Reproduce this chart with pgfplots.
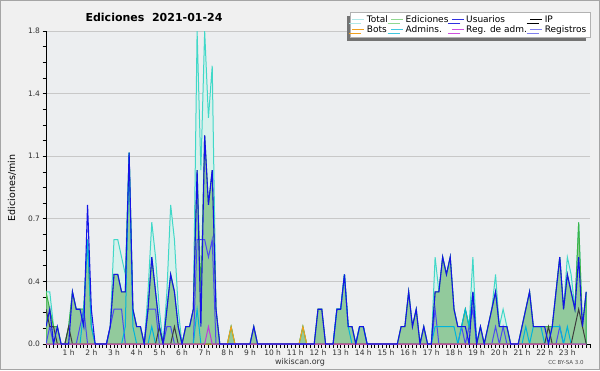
\documentclass[border=0pt]{standalone}
\usepackage{fontspec}
\setmainfont{DejaVu Sans}
\usepackage{pgfplots}
\pgfplotsset{compat=1.18}
\usepackage{pgfplotstable}
\usetikzlibrary{shadows}

\definecolor{outerbg}{RGB}{240,240,240}
\definecolor{plotbg}{RGB}{236,238,240}
\definecolor{bordercol}{RGB}{165,165,165}
\definecolor{gridcol}{RGB}{200,200,200}
\definecolor{turq}{RGB}{64,216,200}
\definecolor{totfill}{RGB}{216,241,236}
\definecolor{edfill}{RGB}{146,202,156}
\definecolor{edline}{RGB}{60,180,70}
\definecolor{usu}{RGB}{20,20,230}
\definecolor{reg}{RGB}{75,75,240}
\definecolor{adm}{RGB}{0,180,220}
\definecolor{ipc}{RGB}{60,60,60}
\definecolor{bots}{RGB}{240,160,30}
\definecolor{radm}{RGB}{190,60,220}
\definecolor{lgtot}{RGB}{176,232,232}
\definecolor{lged}{RGB}{144,216,144}
\definecolor{lgusu}{RGB}{48,48,224}
\definecolor{lgreg}{RGB}{128,128,240}
\definecolor{lgadm}{RGB}{64,200,224}
\definecolor{lgradm}{RGB}{208,80,224}

\pgfplotstableread{
i T E U IP R A B M
0 .3 .3 .1 .2 0 0 0 0
1 .3 .2 .2 .1 .1 0 0 0
2 .1 .1 0 .1 0 0 0 0
3 .1 .1 .1 0 0 0 0 0
4 0 0 0 0 0 0 0 0
5 0 0 0 0 0 0 0 0
6 .1 .1 0 .1 0 0 0 0
7 .3 .3 .3 0 0 0 0 0
8 .2 .2 .2 0 0 0 0 0
9 .2 .2 .2 0 .1 0 0 0
10 .2 .2 .1 0 .2 .2 0 0
11 .6 .6 .8 0 0 .6 0 0
12 .1 .1 .2 0 0 .1 0 0
13 0 0 0 0 0 0 0 0
14 0 0 0 0 0 0 0 0
15 0 0 0 0 0 0 0 0
16 0 0 0 0 0 0 0 0
17 .1 .1 .1 0 .1 0 0 0
18 .6 .4 .4 0 .2 0 0 0
19 .6 .4 .4 0 .2 0 0 0
20 .5 .3 .3 0 .2 0 0 0
21 .4 .3 .3 0 0 .1 0 0
22 1.1 1.1 1.1 0 0 1.1 0 0
23 .2 .2 .2 0 0 .1 0 0
24 .1 .1 .1 0 0 0 0 0
25 .1 .1 .1 0 0 0 0 0
26 0 0 0 0 0 0 0 0
27 .3 .2 .2 0 .2 0 0 0
28 .7 .5 .5 0 .2 .1 0 0
29 .5 .3 .3 0 .2 0 0 0
30 .2 .1 .1 .1 0 0 0 0
31 0 0 0 0 0 0 0 0
32 .3 .2 .2 0 .1 0 0 0
33 .8 .4 .4 0 .1 0 0 0
34 .6 .3 .3 .1 0 0 0 0
35 .2 .1 .1 0 0 0 0 0
36 0 0 0 0 0 0 0 0
37 .1 .1 .1 0 0 0 0 0
38 .1 .1 .1 0 0 0 0 0
39 .2 .2 .2 0 0 0 0 0
40 1.8 1.0 1.0 0 .6 .2 0 0
41 1.0 .3 .1 0 .6 0 0 0
42 1.8 1.2 1.2 0 .6 0 0 0
43 1.3 .8 .8 0 .5 0 0 .1
44 1.6 1.0 1.0 0 .6 0 0 0
45 .2 .2 .2 0 0 0 0 0
46 0 0 0 0 0 0 0 0
47 0 0 0 0 0 0 0 0
48 0 0 0 0 0 0 0 0
49 .1 .1 0 0 0 0 .1 0
50 0 0 0 0 0 0 0 0
51 0 0 0 0 0 0 0 0
52 0 0 0 0 0 0 0 0
53 0 0 0 0 0 0 0 0
54 0 0 0 0 0 0 0 0
55 .1 .1 .1 0 0 0 0 0
56 0 0 0 0 0 0 0 0
57 0 0 0 0 0 0 0 0
58 0 0 0 0 0 0 0 0
59 0 0 0 0 0 0 0 0
60 0 0 0 0 0 0 0 0
61 0 0 0 0 0 0 0 0
62 0 0 0 0 0 0 0 0
63 0 0 0 0 0 0 0 0
64 0 0 0 0 0 0 0 0
65 0 0 0 0 0 0 0 0
66 0 0 0 0 0 0 0 0
67 0 0 0 0 0 0 0 0
68 .1 .1 0 0 0 0 .1 0
69 0 0 0 0 0 0 0 0
70 0 0 0 0 0 0 0 0
71 0 0 0 0 0 0 0 0
72 .2 .2 .2 0 0 0 0 0
73 .2 .2 .2 0 0 0 0 0
74 0 0 0 0 0 0 0 0
75 0 0 0 0 0 0 0 0
76 0 0 0 0 0 0 0 0
77 .2 .2 .2 0 0 .2 0 0
78 .2 .2 .2 0 0 .2 0 0
79 .4 .4 .4 0 0 .4 0 0
80 .1 .1 .1 0 0 .1 0 0
81 .1 .1 .1 0 0 0 0 0
82 0 0 0 0 0 0 0 0
83 .1 .1 .1 0 0 .1 0 0
84 .1 .1 .1 0 0 .1 0 0
85 0 0 0 0 0 0 0 0
86 0 0 0 0 0 0 0 0
87 0 0 0 0 0 0 0 0
88 0 0 0 0 0 0 0 0
89 0 0 0 0 0 0 0 0
90 0 0 0 0 0 0 0 0
91 0 0 0 0 0 0 0 0
92 0 0 0 0 0 0 0 0
93 0 0 0 0 0 0 0 0
94 .1 .1 .1 0 0 0 0 0
95 .1 .1 .1 0 0 0 0 0
96 .3 .3 .3 0 0 0 0 0
97 .1 .1 .1 0 0 0 0 0
98 .2 .2 .2 0 0 0 0 0
99 0 0 0 0 0 0 0 0
100 .1 .1 .1 0 0 0 0 0
101 0 0 0 0 0 0 0 0
102 0 0 0 0 0 0 0 0
103 .5 .3 .3 0 .2 .1 0 0
104 .3 .3 .3 0 0 .1 0 0
105 .5 .5 .5 0 0 .1 0 0
106 .4 .4 .4 0 0 .1 0 0
107 .5 .5 .5 0 0 .1 0 0
108 .2 .2 .2 0 0 .1 0 0
109 .1 .1 .1 0 0 0 0 0
110 .1 .1 .1 0 .1 .1 0 0
111 .2 .2 .1 0 0 .2 0 0
112 .1 .1 0 0 .1 .1 0 0
113 .5 .3 .3 0 .2 .3 0 0
114 0 0 0 0 0 0 0 0
115 .1 .1 .1 0 0 0 0 0
116 0 0 0 0 0 0 0 0
117 .1 .1 .1 0 0 0 0 0
118 .2 .2 .2 0 0 0 0 0
119 .4 .3 .3 0 .1 0 0 0
120 .1 .1 .1 0 0 0 0 0
121 .2 .1 .1 0 .1 0 0 0
122 .1 .1 .1 0 0 0 0 0
123 0 0 0 0 0 0 0 0
124 0 0 0 0 0 0 0 0
125 0 0 0 0 0 0 0 0
126 .1 .1 .1 0 0 0 0 0
127 .2 .2 .2 0 0 .1 0 0
128 .3 .3 .3 0 0 0 0 0
129 .1 .1 .1 0 0 .1 0 0
130 .1 .1 .1 0 0 .1 0 0
131 .1 .1 .1 0 0 .1 0 0
132 .1 .1 .1 0 0 0 0 0
133 .1 .1 0 .1 0 0 0 0
134 .1 .1 .1 0 0 .1 0 0
135 .3 .3 .3 0 0 .1 0 0
136 .5 .5 .5 0 .1 .1 0 0
137 .2 .2 .2 0 0 0 0 0
138 .5 .4 .4 0 0 .1 0 0
139 .4 .3 .3 0 0 0 0 0
140 .2 .2 .2 .1 0 0 0 0
141 .7 .7 .5 .2 0 0 0 0
142 .1 .1 .1 .1 0 0 0 0
143 .3 .3 .3 0 0 0 0 0
}\data

\begin{document}
\begin{tikzpicture}
\fill[outerbg] (0pt,0pt) rectangle (600pt,370pt);
\draw[bordercol, line width=0.8pt] (0.4pt,0.4pt) rectangle (599.6pt,369.6pt);
\node[font=\bfseries\fontsize{11}{13}\selectfont] at (154pt,353pt) {Ediciones\ \ 2021-01-24};
\node[rotate=90, font=\fontsize{9.5}{11}\selectfont] at (12pt,182pt) {Ediciones/min};
\node[font=\fontsize{8}{9}\selectfont, text=black!80] at (300pt,8pt) {wikiscan.org};
\node[font=\fontsize{5.5}{6}\selectfont, text=black!70] at (566pt,8pt) {CC BY-SA 3.0};
\begin{axis}[
  at={(46pt,26pt)}, anchor=south west,
  scale only axis, width=544pt, height=313pt,
  xmin=0, xmax=144, ymin=0, ymax=1.8,
  axis x line*=bottom, axis y line*=left,
  axis line style={black, line width=0.9pt},
  axis background/.style={fill=plotbg},
  tick align=outside,
  major tick length=3.5pt, minor tick length=3.5pt,
  every tick/.style={black, line width=0.7pt},
  xtick={6,12,...,138},
  xticklabels={1 h,2 h,3 h,4 h,5 h,6 h,7 h,8 h,9 h,10 h,11 h,12 h,13 h,14 h,15 h,16 h,17 h,18 h,19 h,20 h,21 h,22 h,23 h},
  minor xtick={0,1,...,144},
  ytick={0,0.36,0.72,1.08,1.44,1.8},
  yticklabels={0.0,0.4,0.7,1.1,1.4,1.8},
  minor y tick num=3,
  ymajorgrids,
  grid style={gridcol, line width=0.7pt},
  ticklabel style={font=\fontsize{7.5}{8}\selectfont, text=black!80},
  xticklabel style={yshift=1pt},
  yticklabel style={xshift=1pt},
  legend columns=4,
  legend cell align=left,
  legend style={at={(1,1)}, anchor=north east, yshift=19pt,
    draw=gray!60, fill=white, font=\fontsize{9}{10}\selectfont,
    inner sep=1.5pt, row sep=-2.5pt,
    /tikz/every even column/.append style={column sep=1pt},
    drop shadow={shadow xshift=-3.5pt, shadow yshift=-3.5pt, fill=black!55, opacity=1}},
  legend image code/.code={\draw[#1, line width=0.8pt] (0pt,0pt) -- (12pt,0pt);},
]
\addplot[draw=turq, line width=1pt, fill=totfill, forget plot] table[x=i,y=T]{\data} \closedcycle;
\addplot[draw=edline, line width=1pt, fill=edfill, forget plot] table[x=i,y=E]{\data} \closedcycle;
\addplot[draw=reg, line width=1pt, forget plot] table[x=i,y=R]{\data};
\addplot[draw=adm, line width=1pt, forget plot] table[x=i,y=A]{\data};
\addplot[draw=ipc, line width=1pt, forget plot] table[x=i,y=IP]{\data};
\addplot[draw=bots, line width=1pt, forget plot] table[x=i,y=B]{\data};
\addplot[draw=radm, line width=1pt, forget plot] table[x=i,y=M]{\data};
\addplot[draw=usu, line width=1.1pt, forget plot] table[x=i,y=U]{\data};
\addlegendimage{lgtot}
\addlegendentry{Total}
\addlegendimage{lged}
\addlegendentry{Ediciones}
\addlegendimage{lgusu}
\addlegendentry{Usuarios}
\addlegendimage{black}
\addlegendentry{IP}
\addlegendimage{bots}
\addlegendentry{Bots}
\addlegendimage{lgadm}
\addlegendentry{Admins.}
\addlegendimage{lgradm}
\addlegendentry{Reg. de adm.}
\addlegendimage{lgreg}
\addlegendentry{Registros}
\end{axis}
\end{tikzpicture}
\end{document}
